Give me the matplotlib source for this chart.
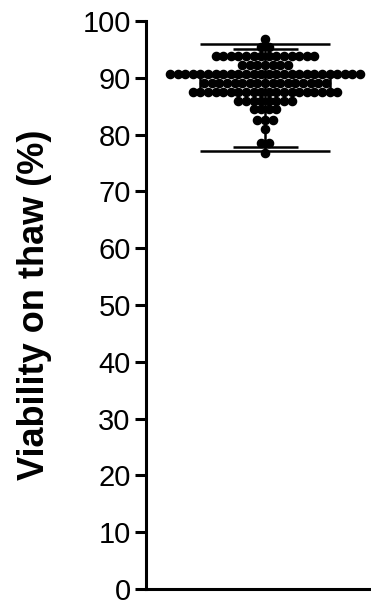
import numpy as np
import matplotlib
matplotlib.use("Agg")
import matplotlib.pyplot as plt

plt.rcParams['font.family'] = ['Liberation Sans', 'DejaVu Sans']

# binned viability values (%) and how many samples fall in each bin
row_values = [96.9, 95.5, 93.8, 92.3, 90.6, 89.0, 87.5, 85.9, 84.5, 82.5, 81.0, 78.6, 76.7]
row_counts = [1, 2, 14, 7, 26, 17, 20, 8, 4, 3, 1, 2, 1]

# box summary
q1, med, q3 = 87.3, 89.0, 90.4
whisk_lo, whisk_hi = 77.9, 95.1
range_lo, range_hi = 77.05, 95.9

yticks = list(range(0, 101, 10))
ylabel = "Viability on thaw (%)"

# layout (x in pixel-like units across the axes)
ax_left = 146
center = 119
spacing = 7.6
box_w = 130

fig = plt.figure(figsize=(3.71, 6.06), dpi=100)
ax = fig.add_axes([ax_left / 371, 17 / 606, (371 - ax_left) / 371, 568 / 606])

# swarm: spread each bin symmetrically around the centre
xs, ys = [], []
for v, n in zip(row_values, row_counts):
    off = (np.arange(n) - (n - 1) / 2) * spacing
    xs.extend(center + off)
    ys.extend([v] * n)
ax.plot(xs, ys, linestyle="none", marker="o", ms=5.9, color="black", zorder=2)

lw = 1.8
# box + whiskers
ax.add_patch(plt.Rectangle((center - box_w / 2, q1), box_w, q3 - q1,
                           fill=False, edgecolor="black", lw=lw, zorder=3))
ax.hlines(med, center - box_w / 2, center + box_w / 2, color="black", lw=lw, zorder=3)
ax.vlines(center, range_lo, range_hi, color="black", lw=lw, zorder=3)
ax.hlines([whisk_lo, whisk_hi], center - box_w / 4, center + box_w / 4, color="black", lw=lw, zorder=3)
ax.hlines([range_lo, range_hi], center - box_w / 2, center + box_w / 2, color="black", lw=lw, zorder=3)

ax.set_xlim(0, 371 - ax_left)
ax.set_ylim(0, 100)
ax.set_yticks(yticks)
ax.set_xticks([])
ax.tick_params(axis="y", direction="out", length=8, width=2.2, labelsize=21, pad=3)
ax.set_ylabel(ylabel, fontsize=26, fontweight="bold")
ax.yaxis.set_label_coords((52 - ax_left) / (371 - ax_left), 0.5)

for s in ["top", "right"]:
    ax.spines[s].set_visible(False)
for s in ["left", "bottom"]:
    ax.spines[s].set_linewidth(2.2)

fig.savefig("out.png", dpi=100)
